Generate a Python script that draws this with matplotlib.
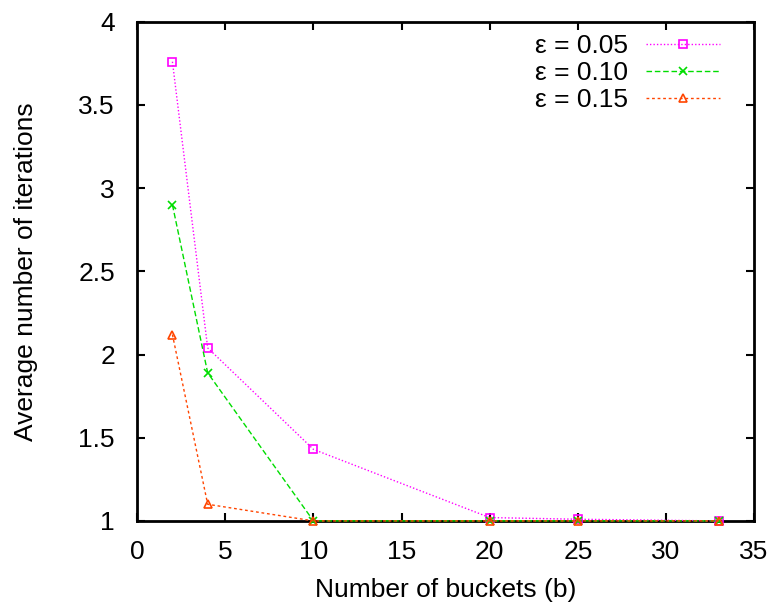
import matplotlib
matplotlib.use("Agg")
import matplotlib.pyplot as plt
from matplotlib.ticker import MultipleLocator

plt.rcParams['font.family'] = ['Liberation Sans', 'DejaVu Sans']

buckets = [2, 4, 10, 20, 25, 33]
iters_005 = [3.76, 2.04, 1.43, 1.02, 1.01, 1.00]
iters_010 = [2.90, 1.89, 1.00, 1.00, 1.00, 1.00]
iters_015 = [2.12, 1.10, 1.00, 1.00, 1.00, 1.00]
labels = ['ε = 0.05', 'ε = 0.10', 'ε = 0.15']

fig = plt.figure(figsize=(7.75, 6.05), dpi=100)
ax = fig.add_axes([0.177, 0.139, 0.796, 0.825])

ax.plot(buckets, iters_005, color='#ff00ff', linestyle=(0, (1, 1.5)), linewidth=1,
        marker='s', markersize=6, markerfacecolor='none', markeredgewidth=1.2,
        label=labels[0], clip_on=False, zorder=3)
ax.plot(buckets, iters_010, color='#00dd00', linestyle=(0, (4, 2)), linewidth=1,
        marker='x', markersize=6, markeredgewidth=1.2,
        label=labels[1], clip_on=False, zorder=3)
ax.plot(buckets, iters_015, color='#ff4500', linestyle=(0, (2, 2)), linewidth=1,
        marker='^', markersize=6, markerfacecolor='none', markeredgewidth=1.2,
        label=labels[2], clip_on=False, zorder=3)

ax.set_xlim(0, 35)
ax.set_ylim(1, 4)
ax.xaxis.set_major_locator(MultipleLocator(5))
ax.set_yticks([1, 1.5, 2, 2.5, 3, 3.5, 4])
ax.set_yticklabels(['1', '1.5', '2', '2.5', '3', '3.5', '4'])
ax.tick_params(direction='in', top=True, right=True, length=6, width=1.5,
               labelsize=19)
ax.tick_params(axis='x', pad=14)
ax.tick_params(axis='y', pad=16)
for s in ax.spines.values():
    s.set_linewidth(2)

ax.set_xlabel('Number of buckets (b)', fontsize=19, labelpad=10)
ax.set_ylabel('Average number of iterations', fontsize=19, labelpad=29)

leg = ax.legend(loc='upper right', bbox_to_anchor=(0.945, 0.975),
                frameon=False, markerfirst=False, fontsize=19,
                handlelength=2.8, handletextpad=0.7, labelspacing=0.11,
                borderpad=0.0, borderaxespad=0.0)
for t in leg.get_texts():
    t.set_ha('right')

fig.savefig('out.png', dpi=100)
